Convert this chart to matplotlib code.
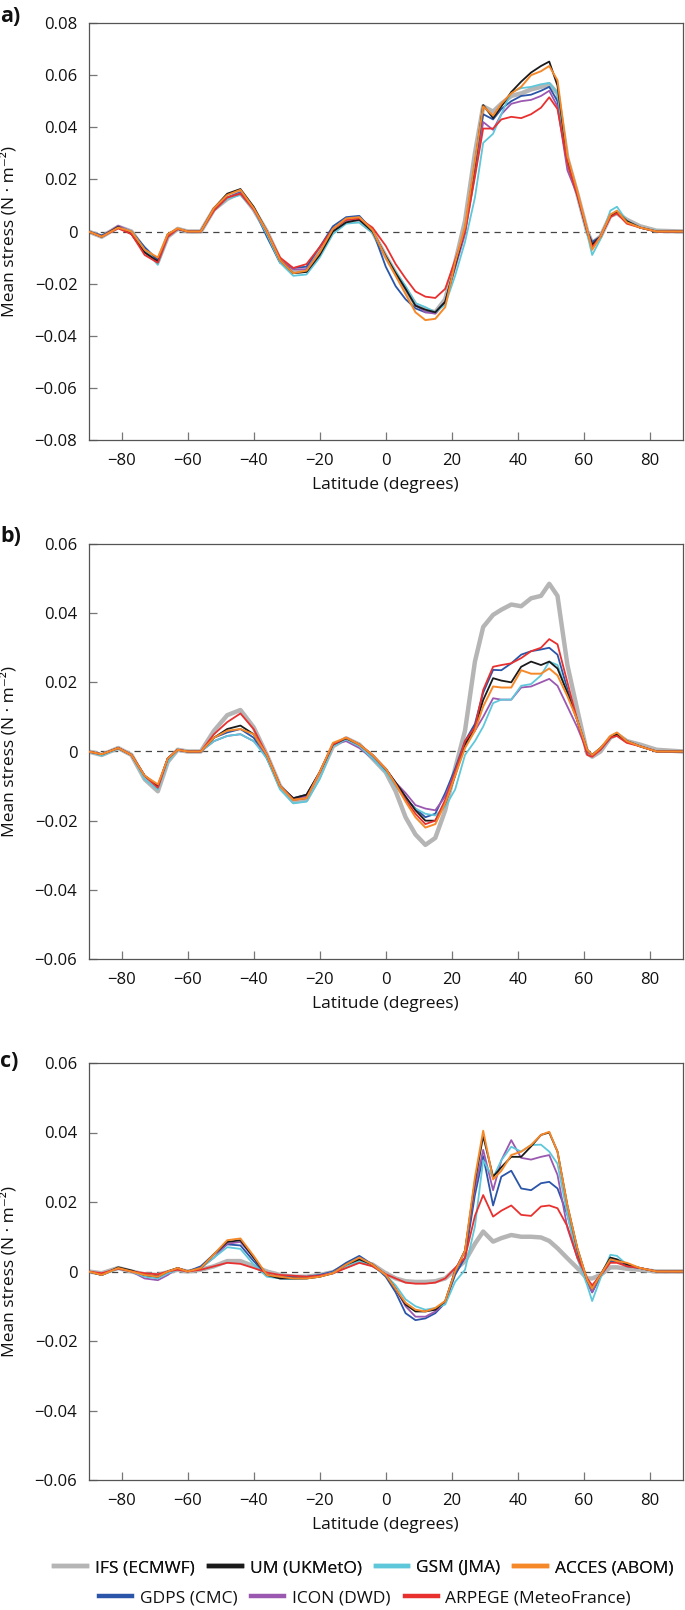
import matplotlib
matplotlib.use("Agg")
import matplotlib.pyplot as plt
from matplotlib.lines import Line2D
from matplotlib.ticker import FixedLocator, FuncFormatter

plt.rcParams['font.family'] = ['Open Sans', 'DejaVu Sans']

# latitude grid shared by all series
LAT = [-90, -86, -81, -77, -73, -69, -66, -63, -60, -56,
       -52, -48, -44, -40, -36, -32, -28, -24, -20, -16,
       -12, -8, -4, 0, 3, 6, 9, 12, 15, 18,
       21, 24, 27, 29.5, 32.5, 35, 38, 41, 44, 47,
       49.5, 52, 55, 58, 61, 62.5, 65, 68, 70, 73,
       77, 82, 90]

MODELS = ["IFS (ECMWF)", "UM (UKMetO)", "GSM (JMA)", "ACCES (ABOM)",
          "GDPS (CMC)", "ICON (DWD)", "ARPEGE (MeteoFrance)"]

# ---- panel a ----
A_IFS = [0, -0.002, 0.0018, 0.0, -0.007, -0.0115, -0.002, 0.001, 0.0, 0.0,
         0.0085, 0.0125, 0.015, 0.0085, 0.0, -0.011, -0.0155, -0.015, -0.008, 0.0005,
         0.004, 0.004, 0.0, -0.0095, -0.016, -0.022, -0.028, -0.030, -0.031, -0.026,
         -0.012, 0.004, 0.030, 0.048, 0.046, 0.049, 0.052, 0.053, 0.0545, 0.0555,
         0.0565, 0.053, 0.028, 0.0145, 0.0, -0.0045, -0.002, 0.006, 0.007, 0.0045,
         0.002, 0.0003, 0.0]
A_UM = [0, -0.002, 0.0018, -0.001, -0.008, -0.0115, -0.001, 0.001, 0.0, 0.0,
        0.009, 0.0145, 0.0163, 0.0095, 0.0, -0.011, -0.016, -0.0155, -0.009, 0.0,
        0.0035, 0.0045, 0.0, -0.0095, -0.016, -0.022, -0.0285, -0.030, -0.031, -0.027,
        -0.013, 0.001, 0.026, 0.0485, 0.0435, 0.048, 0.0535, 0.0575, 0.061, 0.0635,
        0.0652, 0.056, 0.027, 0.0145, 0.0, -0.005, -0.002, 0.006, 0.0075, 0.004,
        0.0015, 0.0, 0.0]
A_GSM = [0, -0.002, 0.0015, 0.0, -0.007, -0.0128, -0.002, 0.001, 0.0, 0.0,
         0.008, 0.0125, 0.014, 0.0085, -0.001, -0.012, -0.017, -0.0165, -0.010, -0.001,
         0.003, 0.0035, -0.0005, -0.0095, -0.0155, -0.021, -0.0275, -0.029, -0.031, -0.028,
         -0.017, -0.004, 0.013, 0.034, 0.0375, 0.045, 0.0535, 0.055, 0.0555, 0.0565,
         0.057, 0.053, 0.026, 0.0145, -0.001, -0.009, -0.003, 0.008, 0.0095, 0.004,
         0.0015, 0.0003, 0.0]
A_ACCES = [0, -0.002, 0.0015, 0.0, -0.007, -0.010, -0.001, 0.0012, 0.0, 0.0,
           0.009, 0.014, 0.016, 0.009, 0.0, -0.011, -0.016, -0.015, -0.008, 0.001,
           0.005, 0.0055, 0.0005, -0.010, -0.017, -0.024, -0.031, -0.034, -0.0335, -0.029,
           -0.012, 0.002, 0.027, 0.048, 0.0445, 0.049, 0.053, 0.0555, 0.060, 0.0615,
           0.0635, 0.058, 0.029, 0.0155, 0.0005, -0.007, -0.002, 0.0065, 0.008, 0.0035,
           0.0015, 0.0, 0.0]
A_GDPS = [0, -0.0015, 0.0015, 0.0, -0.006, -0.011, -0.002, 0.001, 0.0, 0.0,
          0.0085, 0.013, 0.015, 0.009, -0.002, -0.012, -0.014, -0.0135, -0.006, 0.002,
          0.0055, 0.006, 0.0005, -0.0135, -0.021, -0.026, -0.0295, -0.031, -0.031, -0.027,
          -0.013, 0.0, 0.024, 0.045, 0.043, 0.047, 0.050, 0.052, 0.0525, 0.054,
          0.0555, 0.050, 0.026, 0.014, 0.0, -0.004, -0.002, 0.006, 0.007, 0.0035,
          0.0015, 0.0, 0.0]
A_ICON = [0, -0.002, 0.0022, 0.0, -0.008, -0.012, -0.002, 0.001, 0.0, 0.0,
          0.0085, 0.013, 0.0147, 0.0085, 0.0, -0.011, -0.0145, -0.0145, -0.008, 0.001,
          0.0045, 0.0045, 0.0, -0.0095, -0.016, -0.022, -0.028, -0.031, -0.0315, -0.027,
          -0.014, -0.001, 0.022, 0.042, 0.039, 0.045, 0.049, 0.050, 0.0505, 0.052,
          0.054, 0.048, 0.0235, 0.014, 0.0, -0.005, -0.002, 0.006, 0.0075, 0.004,
          0.0015, 0.0, 0.0]
A_ARPEGE = [0, -0.002, 0.0012, -0.001, -0.009, -0.012, -0.002, 0.001, 0.0, 0.0,
            0.008, 0.013, 0.0145, 0.0085, 0.0, -0.010, -0.014, -0.0125, -0.006, 0.001,
            0.0045, 0.005, 0.0015, -0.0055, -0.0125, -0.018, -0.023, -0.025, -0.0255, -0.022,
            -0.011, 0.0, 0.021, 0.0395, 0.0395, 0.043, 0.044, 0.0435, 0.045, 0.0475,
            0.0515, 0.047, 0.026, 0.014, 0.0, -0.006, -0.002, 0.0055, 0.007, 0.003,
            0.0015, 0.0, 0.0]

# ---- panel b ----
B_IFS = [0, -0.001, 0.001, -0.001, -0.008, -0.0115, -0.003, 0.0005, 0.0, 0.0,
         0.006, 0.0105, 0.012, 0.007, -0.001, -0.010, -0.0145, -0.014, -0.007, 0.0015,
         0.0038, 0.002, -0.002, -0.006, -0.0115, -0.019, -0.024, -0.027, -0.025, -0.017,
         -0.005, 0.006, 0.026, 0.036, 0.0395, 0.041, 0.0425, 0.042, 0.0443, 0.045,
         0.0485, 0.045, 0.025, 0.012, -0.0005, -0.0015, 0.0, 0.004, 0.005, 0.003,
         0.002, 0.0005, 0.0]
B_UM = [0, -0.0008, 0.001, -0.001, -0.007, -0.010, -0.002, 0.0005, 0.0, 0.0,
        0.004, 0.0065, 0.0075, 0.005, -0.001, -0.010, -0.0135, -0.0125, -0.006, 0.002,
        0.0038, 0.002, -0.001, -0.005, -0.009, -0.013, -0.017, -0.020, -0.020, -0.015,
        -0.007, 0.002, 0.007, 0.0149, 0.0212, 0.0205, 0.020, 0.0245, 0.026, 0.025,
        0.026, 0.024, 0.017, 0.009, 0.0005, -0.001, 0.001, 0.004, 0.005, 0.003,
        0.0015, 0.0, 0.0]
B_GSM = [0, -0.0012, 0.0008, -0.001, -0.008, -0.011, -0.003, 0.0005, 0.0, 0.0,
         0.003, 0.0045, 0.005, 0.003, -0.002, -0.011, -0.015, -0.0145, -0.008, 0.0015,
         0.0035, 0.0015, -0.002, -0.006, -0.010, -0.014, -0.0165, -0.018, -0.0185, -0.016,
         -0.011, -0.001, 0.003, 0.0072, 0.014, 0.015, 0.015, 0.019, 0.0195, 0.022,
         0.026, 0.025, 0.017, 0.009, 0.0005, -0.001, 0.001, 0.004, 0.005, 0.003,
         0.0015, 0.0, 0.0]
B_ACCES = [0, -0.0008, 0.001, -0.001, -0.007, -0.0095, -0.002, 0.0005, 0.0, 0.0,
           0.004, 0.006, 0.0065, 0.005, -0.001, -0.010, -0.014, -0.0135, -0.006, 0.0025,
           0.004, 0.002, -0.001, -0.005, -0.0095, -0.0145, -0.019, -0.022, -0.021, -0.015,
           -0.007, 0.001, 0.006, 0.013, 0.0188, 0.0185, 0.0185, 0.0235, 0.0225, 0.0225,
           0.024, 0.022, 0.016, 0.009, 0.0005, -0.001, 0.001, 0.0045, 0.0055, 0.003,
           0.0015, 0.0, 0.0]
B_GDPS = [0, -0.0008, 0.001, -0.001, -0.007, -0.010, -0.002, 0.0005, 0.0, 0.0,
          0.004, 0.0055, 0.0065, 0.004, -0.002, -0.010, -0.0135, -0.0125, -0.006, 0.002,
          0.0038, 0.0015, -0.002, -0.0055, -0.009, -0.0135, -0.0165, -0.019, -0.018, -0.012,
          -0.005, 0.003, 0.008, 0.017, 0.0236, 0.0235, 0.0255, 0.028, 0.029, 0.0295,
          0.030, 0.028, 0.018, 0.009, 0.0, -0.001, 0.0005, 0.004, 0.005, 0.003,
          0.0015, 0.0, 0.0]
B_ICON = [0, -0.001, 0.001, -0.001, -0.007, -0.010, -0.002, 0.0005, 0.0, 0.0,
          0.003, 0.0045, 0.005, 0.003, -0.001, -0.010, -0.0135, -0.013, -0.006, 0.002,
          0.003, 0.001, -0.002, -0.005, -0.009, -0.012, -0.0155, -0.0165, -0.017, -0.013,
          -0.006, 0.002, 0.006, 0.010, 0.0154, 0.015, 0.015, 0.0185, 0.0188, 0.020,
          0.021, 0.019, 0.013, 0.007, 0.0, -0.001, 0.001, 0.004, 0.005, 0.003,
          0.0015, 0.0, 0.0]
B_ARPEGE = [0, -0.0008, 0.001, -0.001, -0.007, -0.0105, -0.002, 0.0005, 0.0, 0.0,
            0.005, 0.0085, 0.011, 0.0065, -0.001, -0.010, -0.014, -0.0135, -0.006, 0.002,
            0.004, 0.002, -0.001, -0.005, -0.0095, -0.014, -0.018, -0.021, -0.020, -0.014,
            -0.006, 0.003, 0.007, 0.0178, 0.0245, 0.025, 0.0255, 0.027, 0.029, 0.030,
            0.0325, 0.031, 0.020, 0.009, -0.001, -0.0015, 0.0005, 0.004, 0.0045, 0.0025,
            0.0015, 0.0, 0.0]

# ---- panel c ----
C_IFS = [0, -0.0005, 0.001, 0.0, -0.0008, -0.001, -0.0002, 0.0005, 0.0, 0.0005,
         0.0015, 0.003, 0.003, 0.0015, 0.0, -0.001, -0.0015, -0.0015, -0.001, -0.0002,
         0.0015, 0.003, 0.002, -0.0005, -0.002, -0.0028, -0.003, -0.003, -0.0028, -0.002,
         0.0005, 0.003, 0.008, 0.0115, 0.0086, 0.0096, 0.0105, 0.010, 0.010, 0.0098,
         0.0088, 0.0067, 0.0038, 0.001, -0.002, -0.002, -0.001, 0.0012, 0.0012, 0.0008,
         0.0005, 0.0, 0.0]
C_UM = [0, -0.001, 0.0012, 0.0003, -0.001, -0.0015, 0.0, 0.001, 0.0, 0.001,
        0.005, 0.0085, 0.009, 0.004, -0.001, -0.002, -0.002, -0.002, -0.0015, -0.0005,
        0.002, 0.0035, 0.002, -0.001, -0.005, -0.0095, -0.0115, -0.0115, -0.011, -0.0085,
        0.0, 0.006, 0.026, 0.039, 0.0273, 0.030, 0.033, 0.033, 0.036, 0.0393,
        0.040, 0.0345, 0.019, 0.0067, -0.0025, -0.005, -0.001, 0.004, 0.0035, 0.002,
        0.001, 0.0, 0.0]
C_GSM = [0, -0.001, 0.0008, 0.0, -0.0015, -0.002, -0.0005, 0.0005, 0.0, 0.001,
         0.004, 0.007, 0.0065, 0.002, -0.0015, -0.002, -0.0022, -0.002, -0.0015, -0.0003,
         0.0015, 0.003, 0.0015, -0.001, -0.004, -0.008, -0.010, -0.011, -0.0105, -0.0095,
         -0.003, 0.0005, 0.013, 0.032, 0.027, 0.032, 0.0359, 0.0345, 0.0364, 0.0365,
         0.0345, 0.031, 0.0163, 0.0038, -0.004, -0.0085, -0.002, 0.0048, 0.0045, 0.002,
         0.001, 0.0, 0.0]
C_ACCES = [0, -0.001, 0.001, 0.0, -0.001, -0.0015, 0.0, 0.001, 0.0, 0.001,
           0.005, 0.009, 0.0095, 0.0045, -0.001, -0.0015, -0.002, -0.002, -0.0015, -0.0005,
           0.002, 0.004, 0.002, -0.001, -0.005, -0.009, -0.011, -0.0115, -0.0105, -0.0085,
           0.0, 0.006, 0.027, 0.0405, 0.0265, 0.029, 0.0335, 0.0345, 0.0364, 0.0393,
           0.0402, 0.0345, 0.019, 0.0067, -0.0025, -0.005, -0.001, 0.0035, 0.003, 0.0025,
           0.001, 0.0, 0.0]
C_GDPS = [0, -0.001, 0.001, 0.0, -0.001, -0.0015, 0.0, 0.001, 0.0, 0.0015,
          0.005, 0.0078, 0.0075, 0.003, -0.001, -0.0015, -0.0015, -0.0015, -0.001, 0.0,
          0.0025, 0.0045, 0.002, -0.0015, -0.006, -0.012, -0.014, -0.0135, -0.012, -0.009,
          -0.001, 0.004, 0.022, 0.0332, 0.019, 0.0273, 0.029, 0.0239, 0.0234, 0.0254,
          0.0258, 0.0239, 0.0163, 0.005, -0.003, -0.006, -0.0015, 0.003, 0.003, 0.0015,
          0.001, 0.0, 0.0]
C_ICON = [0, -0.001, 0.001, 0.0, -0.002, -0.0025, -0.001, 0.001, 0.0, 0.001,
          0.004, 0.008, 0.0085, 0.004, -0.001, -0.002, -0.002, -0.0018, -0.0012, -0.0003,
          0.002, 0.0038, 0.002, -0.001, -0.005, -0.010, -0.013, -0.013, -0.0115, -0.009,
          0.0005, 0.006, 0.024, 0.035, 0.0234, 0.032, 0.0378, 0.0327, 0.0322, 0.033,
          0.0335, 0.0278, 0.0125, 0.004, -0.003, -0.006, -0.001, 0.004, 0.003, 0.002,
          0.001, 0.0, 0.0]
C_ARPEGE = [0, -0.0005, 0.0008, 0.0, -0.0005, -0.0008, 0.0, 0.0005, 0.0, 0.0005,
            0.0015, 0.0025, 0.0022, 0.001, -0.0003, -0.001, -0.0012, -0.0015, -0.0012, -0.0005,
            0.001, 0.0025, 0.0015, -0.0008, -0.002, -0.0032, -0.0035, -0.0035, -0.0032, -0.002,
            0.001, 0.004, 0.016, 0.022, 0.0158, 0.0175, 0.019, 0.0163, 0.016, 0.0187,
            0.019, 0.0182, 0.013, 0.004, -0.002, -0.004, -0.001, 0.0025, 0.0025, 0.0015,
            0.001, 0.0, 0.0]

PANELS = [
    ("a)", [A_IFS, A_UM, A_GSM, A_ACCES, A_GDPS, A_ICON, A_ARPEGE], 0.08),
    ("b)", [B_IFS, B_UM, B_GSM, B_ACCES, B_GDPS, B_ICON, B_ARPEGE], 0.06),
    ("c)", [C_IFS, C_UM, C_GSM, C_ACCES, C_GDPS, C_ICON, C_ARPEGE], 0.06),
]

COLORS = ["#b5b5b5", "#1a1a1a", "#5ec7da", "#f5892a", "#2a55a8", "#9b58b0", "#e8302f"]
WIDTHS = [3.2, 1.3, 1.3, 1.4, 1.3, 1.3, 1.3]
DRAW_ORDER = [0, 4, 5, 2, 1, 6, 3]

W, H = 685, 1610
fig = plt.figure(figsize=(W / 100, H / 100), dpi=100)

# axes boxes in pixels: (left, top, right, bottom)
boxes = [(88.5, 23, 683, 440), (88.5, 544, 683, 959), (88.5, 1063, 683, 1480)]
letter_y = [16, 536, 1061]


def fmt(v, pos):
    if abs(v) < 1e-9:
        return "0"
    return f"{v:.2f}".replace("-", "\u2212")


for (letter, series, lim), (l, t, r, b), ly in zip(PANELS, boxes, letter_y):
    ax = fig.add_axes([l / W, 1 - b / H, (r - l) / W, (b - t) / H])
    ax.axhline(0, color="#444444", lw=0.9, ls=(0, (5, 4)), zorder=1)
    for i in DRAW_ORDER:
        ax.plot(LAT, series[i], color=COLORS[i], lw=WIDTHS[i], zorder=2 + DRAW_ORDER.index(i),
                solid_joinstyle="round")
    ax.set_xlim(-90, 90)
    ax.set_ylim(-lim, lim)
    ax.xaxis.set_major_locator(FixedLocator([-80, -60, -40, -20, 0, 20, 40, 60, 80]))
    ax.xaxis.set_major_formatter(FuncFormatter(lambda v, p: f"{v:.0f}".replace("-", "\u2212")))
    yt = [round(-lim + 0.02 * k, 2) for k in range(int(round(2 * lim / 0.02)) + 1)]
    ax.yaxis.set_major_locator(FixedLocator(yt))
    ax.yaxis.set_major_formatter(FuncFormatter(fmt))
    ax.tick_params(direction="in", length=6, width=0.9, color="#777777",
                   labelsize=12, labelcolor="#111111", top=False, right=False)
    ax.tick_params(axis="x", pad=9)
    ax.tick_params(axis="y", pad=8)
    for s in ax.spines.values():
        s.set_color("#555555")
        s.set_linewidth(0.9)
    ax.set_xlabel("Latitude (degrees)", fontsize=12.5, color="#111111", labelpad=6)
    fig.text(9 / W, 1 - ((t + b) / 2) / H, "Mean stress (N \u00b7 m\u207b\u00b2)",
             rotation=90, ha="center", va="center", fontsize=12.5, color="#111111")
    fig.text(0.0, 1 - ly / H, letter, ha="left", va="center", fontsize=15.5,
             fontweight="bold", color="#111111")

handles = [Line2D([], [], color=c, lw=3.2) for c in COLORS]
leg_kw = dict(frameon=False, fontsize=12.5, handlelength=1.9, handletextpad=0.45,
              columnspacing=0.8, borderaxespad=0, labelcolor="#111111")
leg1 = fig.legend(handles[:4], MODELS[:4], ncol=4, loc="center",
                  bbox_to_anchor=(364 / W, 1 - 1568 / H), **leg_kw)
fig.add_artist(leg1)
fig.legend(handles[4:], MODELS[4:], ncol=3, loc="center",
           bbox_to_anchor=(365 / W, 1 - 1598 / H), **leg_kw)

fig.savefig("out.png", dpi=100)
